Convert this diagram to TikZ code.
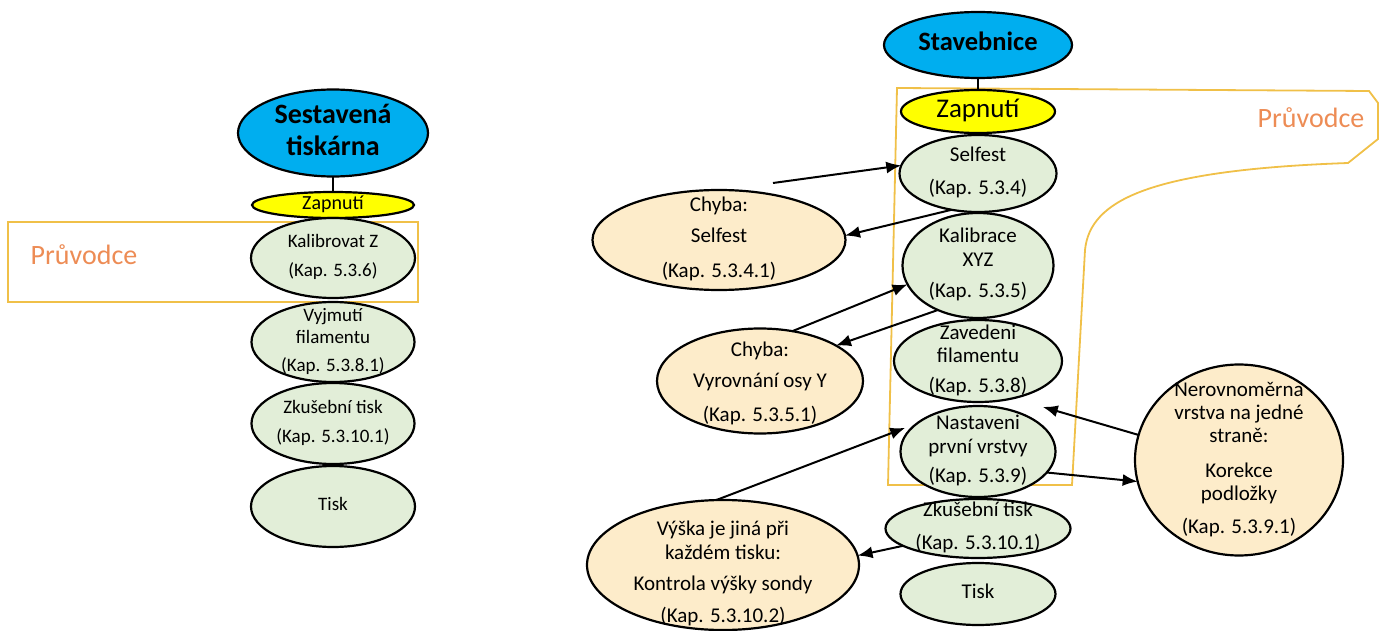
\documentclass[tikz,border=0pt]{standalone}
\usepackage{fontspec}
\setmainfont{Carlito}
\usetikzlibrary{arrows.meta,shapes.geometric,positioning,calc}
\definecolor{headblue}{RGB}{0,174,239}
\definecolor{onyellow}{RGB}{255,255,0}
\definecolor{stepgreen}{RGB}{226,238,216}
\definecolor{errbeige}{RGB}{253,236,202}
\definecolor{guidegold}{RGB}{240,192,72}
\definecolor{guideorange}{RGB}{237,140,85}
\newcommand{\ntxt}[2][0pt]{\makebox[0pt]{\smash{\raisebox{\dimexpr(\depth-\height)/2+#1\relax}{\begin{tabular}{@{}c@{}}#2\end{tabular}}}}}

\begin{document}
\begin{tikzpicture}[
  x=1pt,y=-1pt,
  bubble/.style={draw,line width=2.2pt,ellipse,inner sep=0pt,outer sep=0pt},
  startnode/.style={bubble,fill=headblue,font=\bfseries\fontsize{28}{32}\selectfont},
  onnode/.style={bubble,fill=onyellow},
  lstep/.style={bubble,fill=stepgreen,font=\fontsize{19}{22}\selectfont},
  rstep/.style={bubble,fill=stepgreen,font=\fontsize{21}{23.5}\selectfont},
  errnode/.style={bubble,fill=errbeige,font=\fontsize{21}{24}\selectfont},
  guide/.style={draw=guidegold,line width=1.8pt},
  guidetxt/.style={text=guideorange,font=\fontsize{28}{32}\selectfont},
  link/.style={line width=2pt},
  arr/.style={-{Latex[length=15pt,width=12pt]},line width=2pt},
]
  \useasboundingbox (0,0) rectangle (1379,631);

  \draw[guide,line width=2.2pt] (8,222) rectangle (418,302);
  \draw[guide] (897,88) -- (1369,91) -- (1378,103) -- (1378,139) -- (1348,163)
    .. controls (1150,170) and (1090,200) .. (1085,250) -- (1072,485) -- (888,485) -- cycle;
  \node[guidetxt] (g1) at (84,255) {Průvodce};
  \node[guidetxt] (g2) at (1311,118) {Průvodce};

  % left column
  \node[startnode,minimum width=190pt,minimum height=87pt] (ses) at (333,133)
    {\ntxt{Sestavená\\tiskárna}};
  \node[onnode,font=\fontsize{20}{22}\selectfont,minimum width=162pt,minimum height=26pt,
        below=15.5pt of ses] (zap1) {\ntxt{Zapnutí}};
  \node[lstep,minimum width=164pt,minimum height=80pt,below=0pt of zap1] (kalz)
    {\ntxt{Kalibrovat Z\\[7pt](Kap. 5.3.6)}};
  \node[lstep,minimum width=163pt,minimum height=80pt,below=4pt of kalz] (vyj)
    {\ntxt{Vyjmutí\\filamentu\\[6pt](Kap. 5.3.8.1)}};
  \node[lstep,minimum width=163pt,minimum height=81pt,below=1pt of vyj] (zk1)
    {\ntxt{Zkušební tisk\\[7pt](Kap. 5.3.10.1)}};
  \node[lstep,minimum width=164pt,minimum height=81pt,below=2pt of zk1] (tis1)
    {\ntxt{Tisk}};

  % right column
  \node[startnode,font=\bfseries\fontsize{26.5}{30}\selectfont,minimum width=188pt,
        minimum height=66pt] (stav) at (978,45) {\ntxt{Stavebnice}};
  \node[onnode,font=\fontsize{27}{30}\selectfont,minimum width=154pt,minimum height=43pt,
        below=12pt of stav] (zap2) {\ntxt{Zapnutí}};
  \node[rstep,minimum width=157pt,minimum height=77pt,below=2pt of zap2] (self)
    {\ntxt{Selfest\\[9pt](Kap. 5.3.4)}};
  \node[rstep,minimum width=151pt,minimum height=105pt,below=1pt of self] (kal)
    {\ntxt{Kalibrace\\XYZ\\[8pt](Kap. 5.3.5)}};
  \node[rstep,minimum width=168pt,minimum height=82pt,below=2pt of kal] (zav)
    {\ntxt{Zavedeni\\filamentu\\[6pt](Kap. 5.3.8)}};
  \node[rstep,minimum width=155pt,minimum height=91pt,below=4pt of zav] (nas)
    {\ntxt{Nastaveni\\první vrstvy\\[6pt](Kap. 5.3.9)}};
  \node[rstep,minimum width=185pt,minimum height=59pt,below=2pt of nas] (zk2)
    {\ntxt{Zkušební tisk\\[9pt](Kap. 5.3.10.1)}};
  \node[rstep,minimum width=155pt,minimum height=62pt,below=5pt of zk2] (tis2)
    {\ntxt{Tisk}};

  % errors
  \node[errnode,minimum width=253pt,minimum height=100pt] (chs) at (719,240)
    {\ntxt{Chyba:\\[7pt]Selfest\\[11pt](Kap. 5.3.4.1)}};
  \node[errnode,minimum width=206pt,minimum height=105pt] (chv) at (760,381)
    {\ntxt[-3pt]{Chyba:\\[7pt]Vyrovnání osy Y\\[10pt](Kap. 5.3.5.1)}};
  \node[errnode,minimum width=272pt,minimum height=130pt] (vys) at (723,565)
    {\ntxt[-9pt]{Výška je jiná při\\každém tisku:\\[7pt]Kontrola výšky sondy\\[8pt](Kap. 5.3.10.2)}};
  \node[errnode,font=\fontsize{21}{23}\selectfont,minimum width=208pt,minimum height=191pt]
    (ner) at (1239,460)
    {\ntxt{Nerovnoměrna\\vrstva na jedné\\straně:\\[12pt]Korekce\\podložky\\[10pt](Kap. 5.3.9.1)}};

  \coordinate (s1) at (773,183);

  \draw[link] (ses) -- (zap1);
  \draw[link] (stav) -- (zap2);
  \draw[link] (nas) -- (zk2);

  \draw[arr] (s1) -- (self.174);
  \draw[arr] (self.234) -- (chs.2);
  \draw[arr] (chv.57) -- (kal.195);
  \draw[arr] (kal.228) -- (chv.25);
  \draw[arr,shorten >=13pt] (vys.96) -- (nas.155);
  \draw[arr] (zk2.193) -- (vys.4);
  \draw[arr,shorten >=8pt] (ner.166) -- ($(zav.south east)!0.5!(nas.north east)$);
  \draw[arr] (nas.343) -- (ner.192);
\end{tikzpicture}
\end{document}
